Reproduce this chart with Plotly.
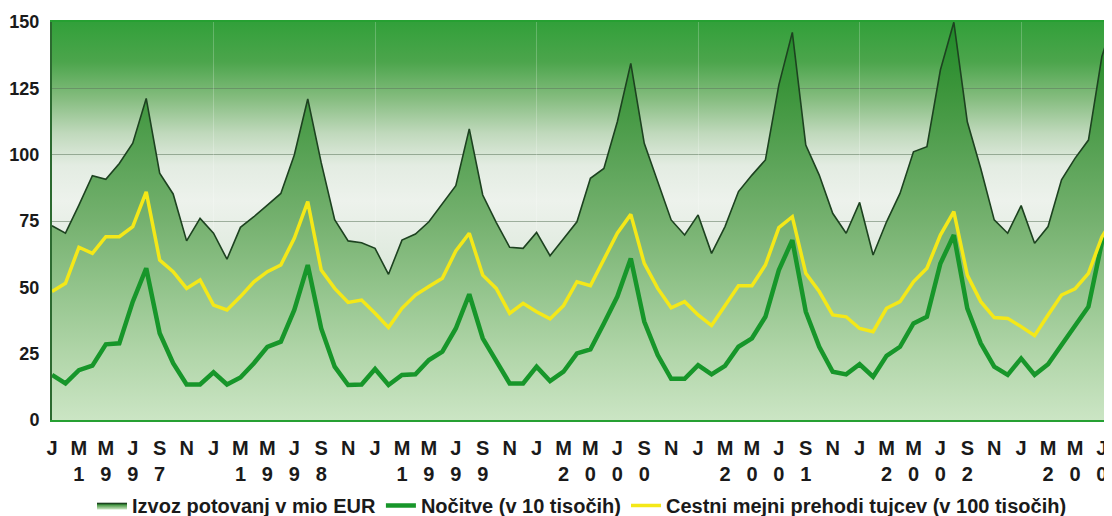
import base64
import plotly.graph_objects as go

# ---- data (monthly, Jan 1997 - Aug 2003) ----
years = ["1997", "1998", "1999", "2000", "2001", "2002", "2003"]
month_letters = ["J", "M", "M", "J", "S", "N"]  # every second month

izvoz = [73.2, 70.4, 81.0, 92.1, 90.7, 96.7, 104.3, 121.2, 93.0, 85.2, 67.5, 76.0,
         70.4, 60.6, 72.6, 76.6, 81.0, 85.4, 99.9, 121.0, 97.0, 75.5, 67.5, 66.8,
         64.7, 54.9, 67.8, 70.1, 74.7, 81.4, 88.3, 109.7, 84.8, 74.5, 65.1, 64.7,
         70.7, 61.9, 68.2, 74.7, 91.1, 94.8, 112.4, 134.4, 104.3, 89.8, 75.4, 69.7,
         77.3, 62.8, 72.9, 86.1, 92.3, 98.0, 126.3, 146.1, 103.6, 92.3, 77.9, 70.4,
         82.0, 62.2, 74.7, 85.4, 101.1, 103.0, 131.9, 149.9, 112.4, 94.8, 75.4, 70.4,
         80.8, 66.6, 72.9, 90.5, 98.6, 105.5, 137.0, 153.0]

nocitve = [17.0, 13.8, 18.8, 20.5, 28.5, 28.9, 44.6, 57.2, 32.7, 21.4, 13.4, 13.4,
           18.0, 13.4, 16.0, 21.4, 27.6, 29.5, 41.5, 58.4, 34.5, 20.1, 13.2, 13.4,
           19.2, 13.2, 17.0, 17.2, 22.6, 25.8, 34.5, 47.4, 30.8, 22.0, 13.8, 13.8,
           20.1, 14.7, 18.2, 25.1, 26.6, 36.4, 46.5, 60.9, 37.1, 24.5, 15.5, 15.5,
           20.7, 17.2, 20.4, 27.6, 30.8, 38.9, 56.5, 67.8, 40.8, 27.6, 18.2, 17.2,
           21.0, 16.3, 24.2, 27.6, 36.4, 38.9, 59.0, 69.7, 42.1, 28.9, 20.1, 17.0,
           23.2, 17.0, 21.0, 28.3, 35.2, 42.7, 67.0, 78.0]

cestni = [48.4, 51.5, 65.1, 62.8, 69.1, 69.1, 72.9, 86.0, 60.3, 55.9, 49.6, 52.8,
          43.3, 41.5, 46.5, 52.1, 55.9, 58.4, 68.5, 82.3, 56.5, 49.6, 44.3, 45.2,
          40.2, 34.9, 42.1, 47.1, 50.3, 53.4, 63.7, 70.4, 54.6, 49.6, 40.2, 44.0,
          40.8, 38.1, 43.1, 52.1, 50.6, 60.3, 70.4, 77.5, 59.0, 49.6, 42.3, 44.6,
          39.6, 35.6, 43.3, 50.6, 50.6, 58.4, 72.5, 76.6, 55.3, 48.4, 39.6, 38.9,
          34.5, 33.3, 42.1, 44.6, 52.1, 57.2, 69.7, 78.5, 54.6, 44.6, 38.6, 38.3,
          35.2, 31.8, 39.6, 47.1, 49.4, 55.3, 69.0, 77.0]

names = ["Izvoz potovanj v mio EUR", "Nočitve (v 10 tisočih)",
         "Cestni mejni prehodi tujcev (v 100 tisočih)"]

n = len(izvoz)
x = list(range(n))
periods = [f"{int(years[0]) + i // 12}-{i % 12 + 1:02d}" for i in range(n)]

# tick labels: month letter + spread year digits underneath
tickvals = list(range(0, 79, 2))
ticktext = []
for m in tickvals:
    yi, k = m // 12, m % 12
    letter = month_letters[k // 2]
    digit = years[yi][(k - 2) // 2] if k in (2, 4, 6, 8) else "\u00a0"
    ticktext.append(f"{letter}<br>{digit}")

FONT = "Liberation Sans, Arial, sans-serif"
XMAX = 78.75

# ---- background gradient as an SVG image ----
svg = """<svg xmlns='http://www.w3.org/2000/svg' width='100' height='400' preserveAspectRatio='none'>
<defs><linearGradient id='g' x1='0' y1='0' x2='0' y2='1'>
<stop offset='0' stop-color='#32a03a'/>
<stop offset='0.10' stop-color='#4ca54c'/>
<stop offset='0.19' stop-color='#84bc7e'/>
<stop offset='0.28' stop-color='#c0d9bc'/>
<stop offset='0.36' stop-color='#e3ece2'/>
<stop offset='0.45' stop-color='#edf2ec'/>
<stop offset='0.60' stop-color='#dfeade'/>
<stop offset='1' stop-color='#cfe4ca'/>
</linearGradient></defs>
<rect width='100' height='400' fill='url(#g)'/></svg>"""
bg_src = "data:image/svg+xml;base64," + base64.b64encode(svg.encode()).decode()

fig = go.Figure()
fig.add_trace(go.Scatter(
    x=x, y=izvoz, name=names[0], customdata=periods,
    mode="lines", line=dict(color="#1d4220", width=1.6),
    fill="tozeroy",
    fillgradient=dict(type="vertical", start=0, stop=150,
                      colorscale=[[0, "#cbe5c4"], [0.17, "#b0d5a8"], [0.33, "#93c48c"],
                                  [0.5, "#75b16f"], [0.67, "#58a255"], [0.83, "#3c953b"],
                                  [1, "#1f8a28"]]),
    hovertemplate="%{customdata}: %{y}<extra></extra>"))
fig.add_trace(go.Scatter(
    x=x, y=nocitve, name=names[1], customdata=periods,
    mode="lines", line=dict(color="#17962a", width=4.5),
    hovertemplate="%{customdata}: %{y}<extra></extra>"))
fig.add_trace(go.Scatter(
    x=x, y=cestni, name=names[2], customdata=periods,
    mode="lines", line=dict(color="#f4e818", width=3.5),
    hovertemplate="%{customdata}: %{y}<extra></extra>"))

# invisible overlay axis carrying year-boundary grid lines
fig.add_trace(go.Scatter(x=[0], y=[0], xaxis="x2", mode="markers",
                         marker=dict(opacity=0), showlegend=False, hoverinfo="skip"))

fig.update_layout(
    width=1104, height=524,
    margin=dict(l=44, r=0, t=14, b=112),
    paper_bgcolor="white", plot_bgcolor="#e6efe5",
    showlegend=True,
    images=[dict(source=bg_src, xref="paper", yref="paper", x=0, y=1,
                 sizex=1, sizey=1, xanchor="left", yanchor="top",
                 sizing="stretch", layer="below")],
    xaxis=dict(range=[0, XMAX], tickmode="array", tickvals=tickvals, ticktext=ticktext,
               showgrid=False, zeroline=False, showline=True, linecolor="#26a032",
               linewidth=2, mirror=True, ticks="", ticklabelstandoff=9, automargin=False,
               tickfont=dict(family=FONT, size=20, color="#1a1a1a", weight="bold")),
    xaxis2=dict(range=[0, XMAX], overlaying="x", tickmode="array",
                tickvals=list(range(12, 79, 12)), showticklabels=False,
                showgrid=True, gridcolor="rgba(255,255,255,0.22)", gridwidth=1,
                zeroline=False, showline=False, automargin=False),
    yaxis=dict(range=[0, 150], tickvals=[0, 25, 50, 75, 100, 125, 150],
               showgrid=True, gridcolor="rgba(95,120,95,0.55)", gridwidth=1,
               zeroline=False, showline=True, linecolor="#2c6a30", linewidth=2,
               ticks="", ticklabelstandoff=7, automargin=False,
               tickfont=dict(family=FONT, size=18, color="#1a1a1a", weight="bold")),
    legend=dict(orientation="h", x=0.5, xanchor="center", y=-0.2638, yanchor="bottom",
                font=dict(family=FONT, size=20, color="#1a1a1a", weight="bold"),
                bgcolor="rgba(0,0,0,0)", borderwidth=0,
                itemwidth=30, tracegroupgap=0),
)

fig.write_html("out.html")
